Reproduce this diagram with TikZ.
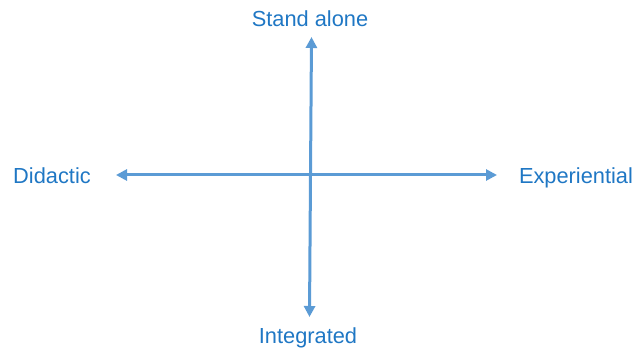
\documentclass[tikz,border=0pt]{standalone}
\usepackage{fontspec}
\setmainfont{Liberation Sans}
\usetikzlibrary{arrows.meta}
\definecolor{txtblue}{HTML}{1F77C4}
\definecolor{arrblue}{HTML}{5B9BD5}
\tikzset{
  lbl/.style={text=txtblue, font=\fontsize{21.8}{26}\selectfont, anchor=base, inner sep=0pt},
  axis/.style={draw=arrblue, line width=3pt, -{Triangle[length=11pt,width=11pt]}, shorten >=0pt}
}
\begin{document}
\begin{tikzpicture}[x=1pt,y=-1pt]
\useasboundingbox (0,0) rectangle (635,350);
\coordinate (c) at (310.5,175);
\coordinate (top) at (311.5,37);
\coordinate (bot) at (309.5,317);
\coordinate (lft) at (116,175);
\coordinate (rgt) at (497,175);
\draw[axis] (c) -- (top);
\draw[axis] (c) -- (bot);
\draw[axis] (c) -- (lft);
\draw[axis] (c) -- (rgt);
\node[lbl] (sa) at (310,27) {Stand alone};
\node[lbl] (di) at (52,183) {Didactic};
\node[lbl] (ex) at (576,183) {Experiential};
\node[lbl] (in) at (308,343) {Integrated};
\end{tikzpicture}
\end{document}
